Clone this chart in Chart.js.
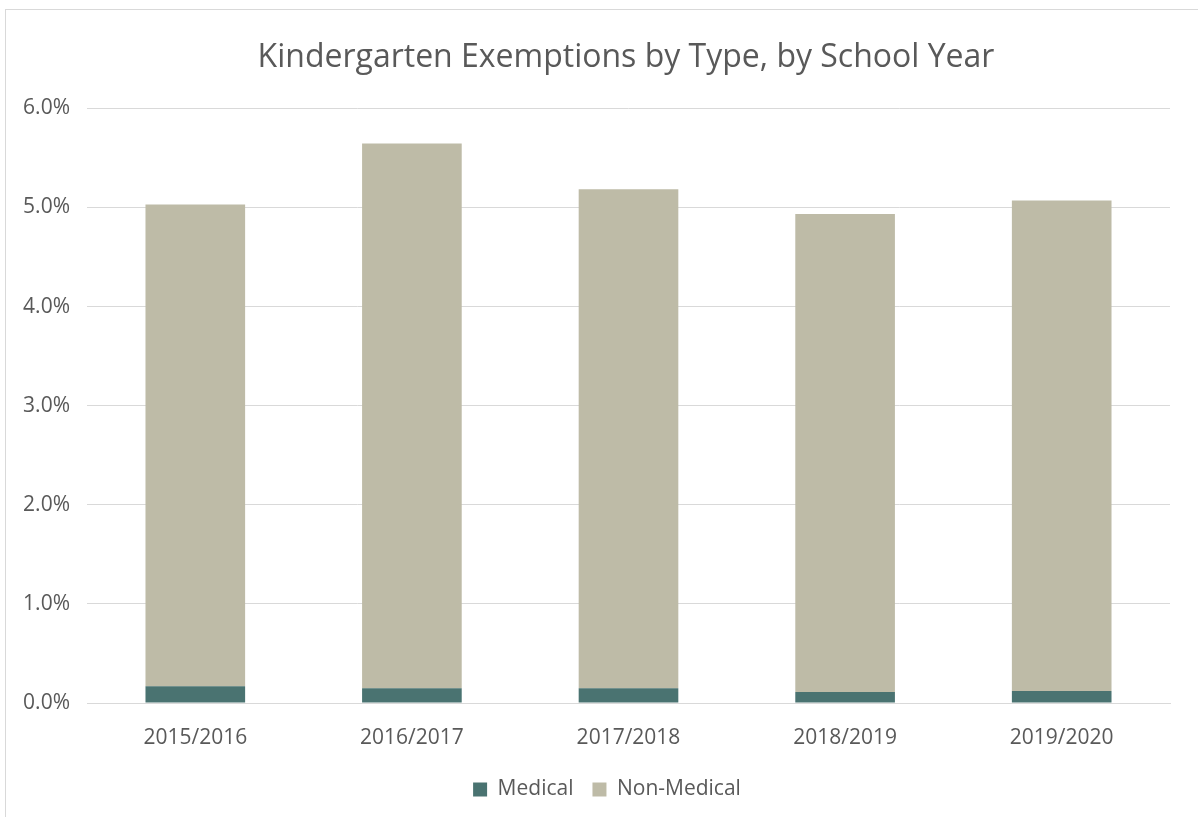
<!DOCTYPE html>
<html>
<head>
<meta charset="utf-8">
<script src="https://cdn.jsdelivr.net/npm/chart.js@4/dist/chart.umd.min.js"></script>
<style>
  html, body { margin: 0; padding: 0; background: #fff; }
  #wrap { position: relative; width: 1198px; height: 817px; overflow: hidden; }
  #frame { position: absolute; left: 5px; top: 9px; width: 1210px; height: 830px; border: 1px solid #d9d9d9; box-sizing: border-box; }
  canvas { position: absolute; left: 0; top: 0; }
</style>
</head>
<body>
<div id="wrap">
  <div id="frame"></div>
  <canvas id="c" width="1198" height="817"></canvas>
</div>
<script>
const categories = ["2015/2016", "2016/2017", "2017/2018", "2018/2019", "2019/2020"];
const medical = [0.17, 0.15, 0.15, 0.11, 0.12];
const nonMedical = [4.86, 5.495, 5.035, 4.825, 4.95];
const yTicks = [0, 1, 2, 3, 4, 5, 6];

const FONT = "'Open Sans', sans-serif";
const TXT = "#595959";

// The original chart frame extends past the right edge, so title and legend sit right of canvas centre.
const shiftBlocks = {
  id: "shiftBlocks",
  afterLayout(chart) {
    if (chart.titleBlock) { chart.titleBlock.left += 41; chart.titleBlock.right += 41; }
    if (chart.legend) { chart.legend.left += 22; chart.legend.right += 22; }
  }
};

new Chart(document.getElementById("c"), {
  type: "bar",
  data: {
    labels: categories,
    datasets: [
      { label: "Medical", data: medical, backgroundColor: "#4a7371", borderWidth: 0 },
      { label: "Non-Medical", data: nonMedical, backgroundColor: "#bebba7", borderWidth: 0 }
    ]
  },
  plugins: [shiftBlocks],
  options: {
    responsive: false,
    animation: false,
    devicePixelRatio: 1,
    layout: { padding: { top: 20, right: 28, bottom: 7, left: 0 } },
    datasets: { bar: { categoryPercentage: 1, barPercentage: 0.46 } },
    plugins: {
      title: {
        display: true,
        text: "Kindergarten Exemptions by Type, by School Year",
        color: TXT,
        font: { family: FONT, size: 32, weight: "normal" },
        padding: { top: 19, bottom: 31 }
      },
      legend: {
        position: "bottom",
        labels: {
          color: TXT,
          font: { family: FONT, size: 21 },
          boxWidth: 14, boxHeight: 14,
          padding: 19
        }
      },
      tooltip: { enabled: false }
    },
    scales: {
      x: {
        stacked: true,
        grid: { display: false, drawTicks: false },
        border: { display: true, color: "#d9d9d9", width: 1 },
        ticks: { color: TXT, font: { family: FONT, size: 21 }, padding: 22 },
        afterFit: s => { s.height = 57; }
      },
      y: {
        stacked: true,
        min: 0, max: 6,
        afterBuildTicks: s => { s.ticks = yTicks.map(v => ({ value: v })); },
        grid: { color: "#d9d9d9", lineWidth: 1, drawTicks: false },
        border: { display: false },
        ticks: {
          color: TXT, font: { family: FONT, size: 21 }, padding: 17,
          callback: v => v.toFixed(1) + "%"
        },
        afterFit: s => { s.width = 87; }
      }
    }
  }
});
</script>
</body>
</html>
